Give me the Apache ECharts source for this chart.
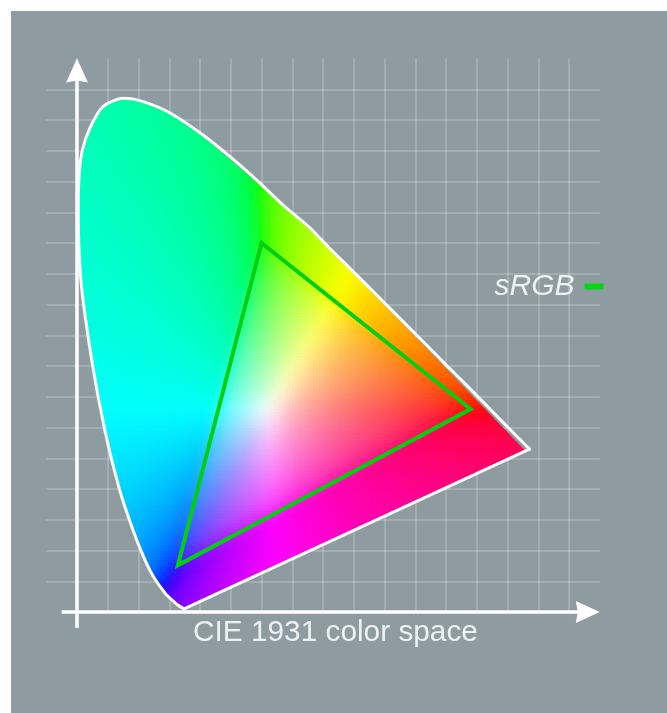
<!DOCTYPE html>
<html><head><meta charset="utf-8">
<style>
html,body{margin:0;padding:0;background:#fff;width:667px;height:713px;overflow:hidden}
#bg{position:absolute;left:11px;top:11px;width:656px;height:702px;background:#8e9ba0}
#main{position:absolute;left:0;top:0;width:667px;height:713px}
</style>
<script src="https://cdn.jsdelivr.net/npm/echarts@6/dist/echarts.min.js"></script>
</head><body><div id="bg"></div><div id="main"></div>
<script>
const chartTitle = 'CIE 1931 color space';
const gamutName = 'sRGB';
// spectral locus outline, chromaticity x, y
const locusX = [.1741,.1644,.1566,.1440,.1241,.1096,.0913,.0687,.0454,.0235,.0065,.0020,.0035,.0085,.0211,.0423,.0753,.1073,.1512,.2049,.2488,.2922,.3350,.3789,.4087,.4441,.4788,.5125,.5448,.5752,.6029,.6270,.6658,.6915,.7358];
const locusY = [.0050,.0109,.0177,.0297,.0578,.0868,.1327,.2007,.2950,.4127,.5384,.6548,.7100,.7500,.7870,.8216,.8353,.8298,.8114,.7756,.7403,.7024,.6618,.6244,.5935,.5585,.5240,.4900,.4575,.4270,.3990,.3750,.3360,.3095,.2650];
// sRGB triangle corners as drawn
const gamutX = [.30,.64,.164];
const gamutY = [.60,.33,.076];
// axis arrows: from x, from y, to x, to y
const axisArrows = [[-.025,0,.85,0],[0,-.026,0,.9]];

const locus = locusX.map((x,i)=>[x,locusY[i]]);
const gamut = gamutX.map((x,i)=>[x,gamutY[i]]);
const closingEdge = [locus[locus.length-1],locus[0]];

function chromaRGB(x,y){
  y=Math.max(y,.003);
  const X=x/y, Z=Math.max(1-x-y,0)/y;
  let r=3.2406*X-1.5372-.4986*Z, g=-.9689*X+1.8758+.0415*Z, b=.0557*X-.204+1.057*Z;
  const mn=Math.min(r,g,b);
  r-=mn*(mn<0?1:.35);g-=mn*(mn<0?1:.35);b-=mn*(mn<0?1:.35);
  const mx=Math.max(r,g,b)||1;
  const gam=v=>{v=Math.max(0,v/mx);return 255*(v<=.0031308?12.92*v:1.055*Math.pow(v,1/2.4)-.055);};
  return [gam(r),gam(g),gam(b)];
}
function softColor(x,y){
  const R=.014;let s=[0,0,0],n=0;
  for(let a=-1;a<=1;a++)for(let c=-1;c<=1;c++){
    const w=(a===0?2:1)*(c===0?2:1);
    const q=chromaRGB(x+a*R,y+c*R);
    s[0]+=w*q[0];s[1]+=w*q[1];s[2]+=w*q[2];n+=w;
  }
  return 'rgb('+Math.round(s[0]/n)+','+Math.round(s[1]/n)+','+Math.round(s[2]/n)+')';
}
// clip a cell against the (clockwise, convex) locus
function clipCell(poly){
  let out=poly;
  const n=locus.length;
  for(let i=0;i<n&&out.length;i++){
    const a=locus[i],b=locus[(i+1)%n];
    const side=p=>(b[0]-a[0])*(p[1]-a[1])-(b[1]-a[1])*(p[0]-a[0]);
    const inp=out;out=[];
    for(let j=0;j<inp.length;j++){
      const p=inp[j],q=inp[(j+1)%inp.length];
      const sp=side(p),sq=side(q);
      if(sp<=0)out.push(p);
      if((sp<0&&sq>0)||(sp>0&&sq<0)){const t=sp/(sp-sq);out.push([p[0]+t*(q[0]-p[0]),p[1]+t*(q[1]-p[1])]);}
    }
  }
  return out;
}
const step=.005;
const cells=[];
for(let i=0;i<150;i++)for(let j=0;j<170;j++){
  const x0=i*step,y0=j*step;
  const poly=clipCell([[x0,y0],[x0,y0+step],[x0+step,y0+step],[x0+step,y0]]);
  if(poly.length>=3)cells.push({value:[x0,y0],poly:poly});
}

const chart=echarts.init(document.getElementById('main'),null,{renderer:'canvas'});
const axisCommon={show:true,axisLine:{show:false},axisTick:{show:false},axisLabel:{show:false},
  splitLine:{show:true,showMinLine:false,showMaxLine:false,lineStyle:{color:'rgba(255,255,255,0.25)',width:1.5}}};
chart.setOption({
  animation:false,
  backgroundColor:'transparent',
  textStyle:{fontFamily:'Liberation Sans'},
  title:{text:chartTitle,left:193,top:618,padding:0,textStyle:{color:'#eef1f2',fontSize:29.8,fontWeight:'normal',fontFamily:'Liberation Sans'}},
  legend:{data:[{name:gamutName,icon:'rect'}],left:494.5,top:271.5,padding:0,align:'right',itemWidth:19,itemHeight:6,
    textStyle:{color:'#eef1f2',fontSize:30,fontStyle:'italic',fontFamily:'Liberation Sans',padding:[6,5,0,0]},selectedMode:false},
  grid:{left:46.25,right:67.25,top:58.5,bottom:101},
  xAxis:Object.assign({type:'value',min:-.05,max:.85,interval:.05},axisCommon),
  yAxis:Object.assign({type:'value',min:0,max:.9,interval:.05},axisCommon),
  series:[
    {type:'custom',name:'axes',z:3,silent:true,data:axisArrows,
     renderItem(p,api){
       const a=api.coord([api.value(0),api.value(1)]),b=api.coord([api.value(2),api.value(3)]);
       const dx=Math.sign(b[0]-a[0]),dy=Math.sign(b[1]-a[1]);
       const L=24,W=11,N=2;
       const base=[b[0]-dx*L,b[1]-dy*L];
       return {type:'group',children:[
         {type:'line',shape:{x1:a[0],y1:a[1],x2:b[0]-dx*10,y2:b[1]-dy*10},style:{stroke:'#fff',lineWidth:3.5}},
         {type:'polygon',shape:{points:[b,[base[0]-dy*W,base[1]+dx*W],[b[0]-dx*(L-N),b[1]-dy*(L-N)],[base[0]+dy*W,base[1]-dx*W]]},style:{fill:'#fff'}}
       ]};
     }},
    {type:'custom',name:'field',z:4,silent:true,progressive:0,data:cells.map(c=>c.value),
     encode:{x:0,y:1},
     renderItem(p,api){
       const c=cells[p.dataIndex];
       const pts=c.poly.map(q=>api.coord(q));
       const col=softColor(c.value[0]+step/2,c.value[1]+step/2);
       return {type:'polygon',shape:{points:pts},style:{fill:col,stroke:col,lineWidth:.8}};
     }},
    {type:'line',name:'locus',z:5,silent:true,symbol:'none',clip:false,smooth:.25,
     data:locus,lineStyle:{color:'#fff',width:3,join:'round',cap:'round'}},
    {type:'line',name:'closing',z:5,silent:true,symbol:'none',clip:false,
     data:closingEdge,lineStyle:{color:'#fff',width:3,cap:'round'}},
    {type:'line',name:gamutName,z:6,silent:true,symbol:'none',clip:false,
     data:gamut.concat([gamut[0],gamut[1]]),
     itemStyle:{color:'#00d812'},lineStyle:{color:'#00d010',width:4,join:'miter'}}
  ]
});
</script></body></html>
